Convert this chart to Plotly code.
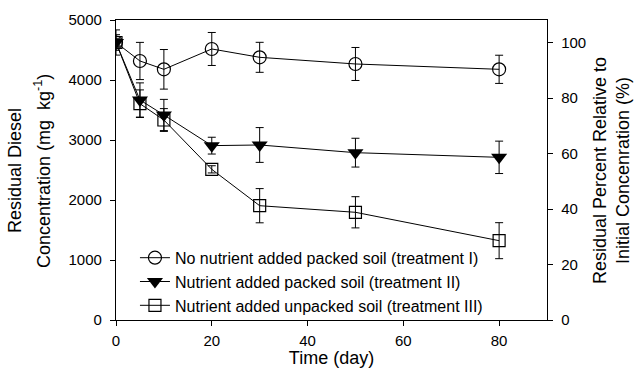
import plotly.graph_objects as go

days = [0, 5, 10, 20, 30, 50, 80]

# Residual diesel concentration (mg/kg)
t1_vals = [4625, 4317, 4178, 4517, 4378, 4267, 4178]
t1_err = [210, 310, 330, 275, 250, 275, 235]

t2_vals = [4625, 3667, 3417, 2906, 2917, 2789, 2711]
t2_err = [70, 285, 260, 140, 290, 240, 270]

t3_vals = [4625, 3605, 3333, 2511, 1905, 1795, 1322]
t3_err = [130, 230, 190, 60, 285, 260, 300]

names = [
    "No nutrient added packed soil (treatment I)",
    "Nutrient added packed soil (treatment II)",
    "Nutrient added unpacked soil (treatment III)",
]

x_ticks = [0, 20, 40, 60, 80]
y_ticks = [0, 1000, 2000, 3000, 4000, 5000]
y2_ticks = [0, 20, 40, 60, 80, 100]

initial = t1_vals[0]
y_max = 5000
y2_max = y_max / initial * 100

FONT = "Liberation Sans, Arial, sans-serif"

fig = go.Figure()

def err(e):
    return dict(type="data", array=e, visible=True, color="black", thickness=1, width=4)

# draw order: squares, triangles, circles (legend order via legendrank)
fig.add_trace(go.Scatter(
    x=days, y=t3_vals, error_y=err(t3_err), mode="lines+markers", name=names[2],
    legendrank=3,
    line=dict(color="black", width=1),
    marker=dict(symbol="square-open", size=12, color="black", line=dict(width=1.2, color="black")),
))
fig.add_trace(go.Scatter(
    x=days, y=t2_vals, error_y=err(t2_err), mode="lines+markers", name=names[1],
    legendrank=2,
    line=dict(color="black", width=1),
    marker=dict(symbol="triangle-down", size=14, color="black", line=dict(width=0)),
))
fig.add_trace(go.Scatter(
    x=days, y=t1_vals, error_y=err(t1_err), mode="lines+markers", name=names[0],
    legendrank=1,
    line=dict(color="black", width=1),
    marker=dict(symbol="circle-open", size=13, color="black", line=dict(width=1.2, color="black")),
))
# invisible trace on the secondary (percent) axis
fig.add_trace(go.Scatter(
    x=days, y=[v / initial * 100 for v in t1_vals], yaxis="y2", mode="markers",
    marker=dict(opacity=0), showlegend=False, hoverinfo="skip",
))

axis_common = dict(
    showline=True, linecolor="black", linewidth=1.3,
    ticks="outside", ticklen=5, tickwidth=1.2, tickcolor="black",
    showgrid=False, zeroline=False, automargin=False,
    tickfont=dict(family=FONT, size=15, color="black"),
)

fig.update_layout(
    width=635, height=368,
    margin=dict(l=116, r=88, t=20, b=48),
    paper_bgcolor="white", plot_bgcolor="white",
    font=dict(family=FONT, size=15, color="black"),
    xaxis=dict(range=[0, 90], tickvals=x_ticks, mirror=True, ticklabelstandoff=2, **axis_common,
               title=dict(text="Time (day)", font=dict(family=FONT, size=18), standoff=6)),
    yaxis=dict(range=[0, y_max], tickvals=y_ticks, ticklabelstandoff=5, **axis_common),
    yaxis2=dict(range=[0, y2_max], tickvals=y2_ticks, overlaying="y", side="right",
                anchor="x", ticklabelstandoff=5, **axis_common),
    legend=dict(x=0.044, y=0.264, xanchor="left", yanchor="top",
                bgcolor="rgba(0,0,0,0)", font=dict(family=FONT, size=16),
                tracegroupgap=0, itemwidth=30),
    showlegend=True,
)

plot_w = 635 - 116 - 88
plot_h = 368 - 20 - 48
def px_to_paper(px, py):
    return (px - 116) / plot_w, (368 - 48 - py) / plot_h

ann_font = dict(family=FONT, size=18, color="black")
for text, xpx in [("Residual Diesel", 15), ("Concentration (mg  kg<sup>-1</sup>)", 42),
                  ("Residual Percent Relative to", 600), ("Initial Concenration (%)", 623)]:
    px, py = px_to_paper(xpx, 171)
    fig.add_annotation(text=text, x=px, y=py, xref="paper", yref="paper",
                       xanchor="center", yanchor="middle", textangle=-90, showarrow=False,
                       font=ann_font)

fig.write_html("out.html")
